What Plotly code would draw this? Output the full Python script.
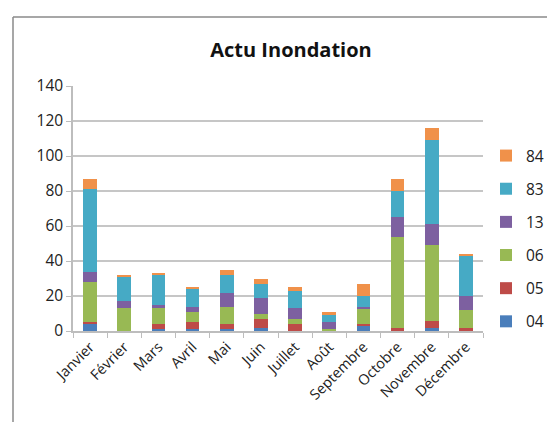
import plotly.graph_objects as go

# Data
months = ['Janvier', 'Février', 'Mars', 'Avril', 'Mai', 'Juin', 'Juillet',
          'Août', 'Septembre', 'Octobre', 'Novembre', 'Décembre']
s04 = [4, 0, 1, 1, 1, 2, 0, 0, 3, 0, 2, 0]
s05 = [1, 0, 3, 4, 3, 5, 4, 0, 1, 2, 4, 2]
s06 = [23, 13, 9, 6, 10, 3, 3, 1, 9, 52, 43, 10]
s13 = [6, 4, 2, 3, 8, 9, 6, 4, 1, 11, 12, 8]
s83 = [47, 14, 17, 10, 10, 8, 10, 4, 6, 15, 48, 23]
s84 = [6, 1, 1, 1, 3, 3, 2, 2, 7, 7, 7, 1]

series = [
    ('04', s04, '#4A7EBB'),
    ('05', s05, '#BE4B48'),
    ('06', s06, '#98B954'),
    ('13', s13, '#7D60A0'),
    ('83', s83, '#46AAC5'),
    ('84', s84, '#F0914A'),
]

fig = go.Figure()
for i, (name, vals, color) in enumerate(series):
    fig.add_trace(go.Bar(
        x=months, y=vals, name=name, legendgroup=name,
        legendrank=1000 - i,  # 84 on top of the legend, 04 at the bottom
        marker=dict(color=color, line=dict(width=0)),
    ))

W, H = 555, 422
L, R, T, B = 65, 80, 78, 99
pw, ph = W - L - R, H - T - B


def px_x(p):
    return (p - L) / pw


def px_y(p):
    return (H - B - p) / ph


fig.update_layout(
    barmode='stack',
    bargap=0.6,
    width=W, height=H,
    margin=dict(l=L, r=R, t=T, b=B, autoexpand=False),
    paper_bgcolor='white',
    plot_bgcolor='white',
    font=dict(family='Open Sans, Liberation Sans, sans-serif', color='#222', size=15),
    title=dict(text='<b>Actu Inondation</b>', x=283 / W, xref='container',
               xanchor='center', y=1 - 42 / H, yref='container', yanchor='middle',
               font=dict(size=20, color='#111')),
    legend=dict(traceorder='grouped', x=px_x(478), xanchor='left',
                y=px_y(131), yanchor='top', tracegroupgap=10,
                font=dict(size=15.5, color='#222'), itemwidth=30),
    showlegend=True,
    xaxis=dict(tickangle=-45, tickfont=dict(size=14.5), showgrid=False,
               showline=True, linecolor='#bdbdbd', linewidth=1.5,
               ticks='outside', tickson='boundaries', ticklen=5,
               tickcolor='#bdbdbd'),
    yaxis=dict(range=[0, 140], dtick=20, showgrid=True, gridcolor='#c6c6c6',
               gridwidth=1.5, showline=True, linecolor='#bdbdbd', linewidth=1.5,
               ticks='outside', ticklen=5, tickcolor='#bdbdbd', zeroline=False,
               tickfont=dict(size=15.5)),
    shapes=[
        dict(type='line', xref='paper', yref='paper', x0=px_x(5), x1=px_x(5),
             y0=px_y(430), y1=px_y(9), line=dict(color='#8a8a8a', width=1.5)),
        dict(type='line', xref='paper', yref='paper', x0=px_x(5), x1=px_x(560),
             y0=px_y(9), y1=px_y(9), line=dict(color='#8a8a8a', width=1.5)),
    ],
)

fig.write_html('out.html')
